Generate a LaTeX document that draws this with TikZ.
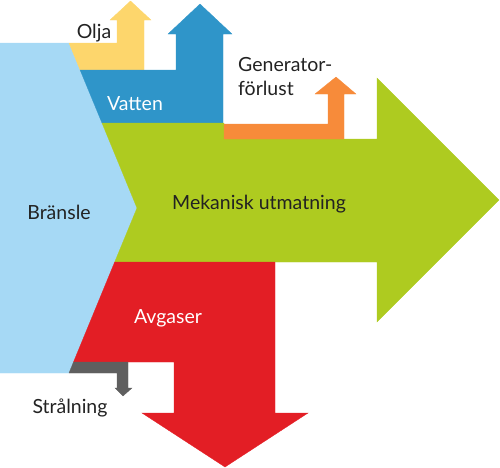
\documentclass[tikz,border=0pt]{standalone}
\usepackage{fontspec}
\setmainfont{Lato}
\definecolor{fuelc}{HTML}{A6D9F5}
\definecolor{oilc}{HTML}{FDD66C}
\definecolor{waterc}{HTML}{2F95C9}
\definecolor{mechc}{HTML}{AECB20}
\definecolor{genc}{HTML}{F78B3A}
\definecolor{exhc}{HTML}{E31E25}
\definecolor{radc}{HTML}{5F5F5F}
\definecolor{txt}{HTML}{222222}
\begin{document}
\begin{tikzpicture}[x=1pt,y=-1pt,
  flow/.style={line width=0.3pt,line join=miter},
  lbl/.style={font=\fontsize{19.5}{24}\selectfont,text=txt,inner sep=0pt},
  wlbl/.style={lbl,text=white}]
\useasboundingbox (0,0) rectangle (500,467);
% fuel
\filldraw[flow,fill=fuelc,draw=fuelc] (0,43) -- (69,43) -- (137,208) -- (69,373) -- (0,373) -- cycle;
% oil
\filldraw[flow,fill=oilc,draw=oilc] (69,43) -- (117,43) -- (117,20) -- (110,20) -- (130.5,1) -- (151,20) -- (144,20) -- (144,70) -- (80.1,70) -- cycle;
% water
\filldraw[flow,fill=waterc,draw=waterc] (80.1,70) -- (176,70) -- (176,34) -- (168,34) -- (200,4) -- (232,34) -- (223,34) -- (223,123) -- (102,123) -- cycle;
% mechanical output
\filldraw[flow,fill=mechc,draw=mechc] (102,123) -- (224,123) -- (224,139) -- (377,139) -- (377,78) -- (499,200) -- (377,322) -- (377,262) -- (114.7,262) -- (137,208) -- cycle;
% generator loss
\filldraw[flow,fill=genc,draw=genc] (224,124) -- (328,124) -- (328,94) -- (315,94) -- (336,77) -- (356,94) -- (344,94) -- (344,139) -- (224,139) -- cycle;
% exhaust
\filldraw[flow,fill=exhc,draw=exhc] (114.7,262) -- (275,262) -- (275,413) -- (308,413) -- (225,467) -- (142,413) -- (174,413) -- (174,362) -- (73.5,362) -- cycle;
% radiation
\filldraw[flow,fill=radc,draw=radc] (73.5,362) -- (128,362) -- (128,388) -- (132,388) -- (123,396) -- (115,388) -- (117,388) -- (117,373) -- (69,373) -- cycle;
% labels
\node[lbl] (olja) at (94,33) {Olja};
\node[wlbl] (vatten) at (135,104) {Vatten};
\node[lbl,align=left,anchor=west] (gen) at (238,77) {Generator-\\förlust};
\node[lbl] (bransle) at (59,212) {Bränsle};
\node[lbl] (mek) at (259,204) {Mekanisk utmatning};
\node[wlbl] (avg) at (168,318) {Avgaser};
\node[lbl] (stral) at (70,408) {Strålning};
\end{tikzpicture}
\end{document}
